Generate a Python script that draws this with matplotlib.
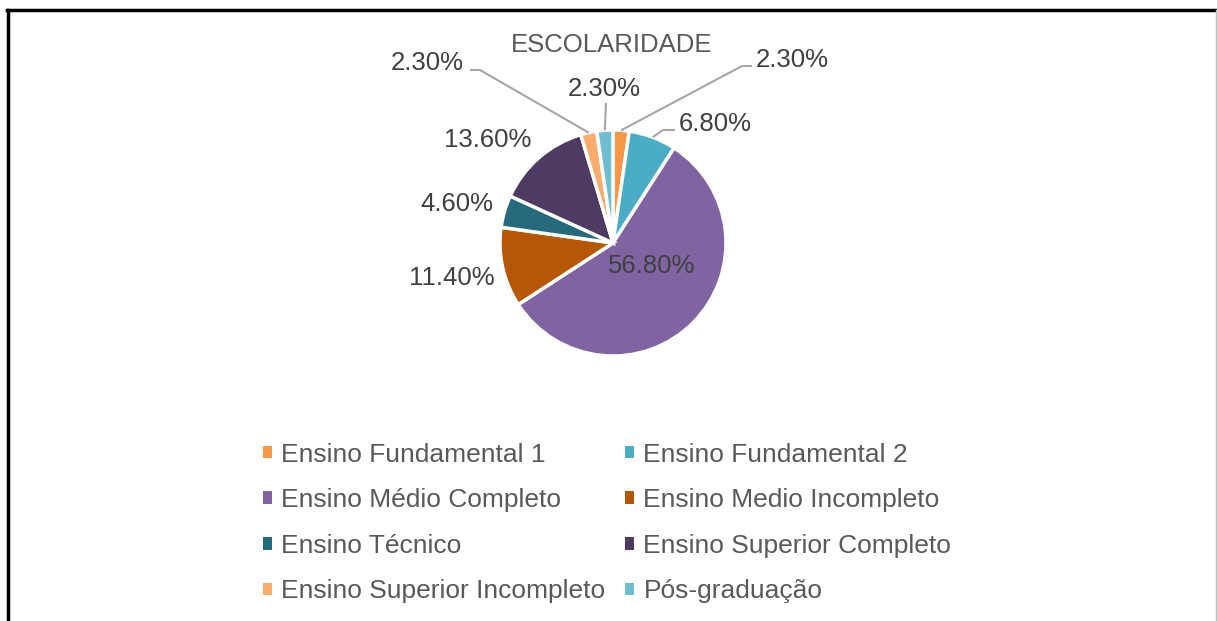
import matplotlib.pyplot as plt
from matplotlib.lines import Line2D
from matplotlib.patches import Patch
import numpy as np

plt.rcParams['font.family'] = ['Liberation Sans', 'DejaVu Sans']

# dados
categorias = ['Ensino Fundamental 1', 'Ensino Fundamental 2', 'Ensino Médio Completo',
              'Ensino Medio Incompleto', 'Ensino Técnico', 'Ensino Superior Completo',
              'Ensino Superior Incompleto', 'Pós-graduação']
valores = [2.3, 6.8, 56.8, 11.4, 4.6, 13.6, 2.3, 2.3]
rotulos = ['2.30%', '6.80%', '56.80%', '11.40%', '4.60%', '13.60%', '2.30%', '2.30%']
cores = ['#F79646', '#4BACC6', '#8064A2', '#B65708', '#276A7C', '#4D3B62', '#F9AC6C', '#6FBDD1']

W, H = 1217, 621
fig = plt.figure(figsize=(W / 100, H / 100), dpi=100)
ax = fig.add_axes([0, 0, 1, 1])

# centro e raio da pizza em pixels (y a partir de baixo)
cx, cy, r = 613, H - 243, 113
wedges, _ = ax.pie(valores, colors=cores, startangle=90, counterclock=False,
                   center=(cx, cy), radius=r,
                   wedgeprops=dict(edgecolor='white', linewidth=2.5))
ax.set_xlim(0, W)
ax.set_ylim(0, H)
ax.set_aspect('equal')
ax.axis('off')

# posição dos rótulos (pixels, y de cima) e cotovelos das linhas guia
pos_rotulos = [(792, 60), (715, 124), (652, 266), (452, 278),
               (457, 204), (488, 140), (427, 63), (604, 89)]
guias = {0: [(742, 66), (752, 66)],
         1: [(663, 130), (675, 130)],
         6: [(480, 70), (470, 70)],
         7: [(606, 103)]}

cor_texto = '#404040'
for i, w in enumerate(wedges):
    x, y = pos_rotulos[i]
    ax.text(x, H - y, rotulos[i], ha='center', va='center', fontsize=18.5, color=cor_texto)
    if i in guias:
        ang = np.deg2rad((w.theta1 + w.theta2) / 2)
        pts = [(cx + r * np.cos(ang), cy + r * np.sin(ang))]
        pts += [(px, H - py) for px, py in guias[i]]
        xs, ys = zip(*pts)
        ax.plot(xs, ys, color='#A6A6A6', linewidth=1.5, solid_capstyle='butt')

ax.text(612, H - 45, 'ESCOLARIDADE', ha='center', va='center', fontsize=18.5, color='#595959')

# legenda em duas colunas (ordem por linhas, como no original)
ordem = [0, 2, 4, 6, 1, 3, 5, 7]
handles = [Patch(facecolor=cores[i], edgecolor='none') for i in ordem]
leg = fig.legend(handles, [categorias[i] for i in ordem], ncol=2, loc='center',
                 bbox_to_anchor=(607 / W, 1 - 523 / H), frameon=False,
                 fontsize=19, labelcolor='#595959', handlelength=0.35, handleheight=0.35,
                 handletextpad=0.35, columnspacing=0.75, labelspacing=0.82)

# moldura
fig.add_artist(Line2D([8 / W, 8 / W], [0, 1 - 10 / H], color='black', linewidth=2.5,
                      transform=fig.transFigure))
fig.add_artist(Line2D([7 / W, 1216 / W], [1 - 10 / H, 1 - 10 / H], color='black', linewidth=2.5,
                      transform=fig.transFigure))
fig.add_artist(Line2D([1216 / W, 1216 / W], [0, 1 - 10 / H], color='#BFBFBF', linewidth=1,
                      transform=fig.transFigure))

fig.savefig('out.png', dpi=100)
